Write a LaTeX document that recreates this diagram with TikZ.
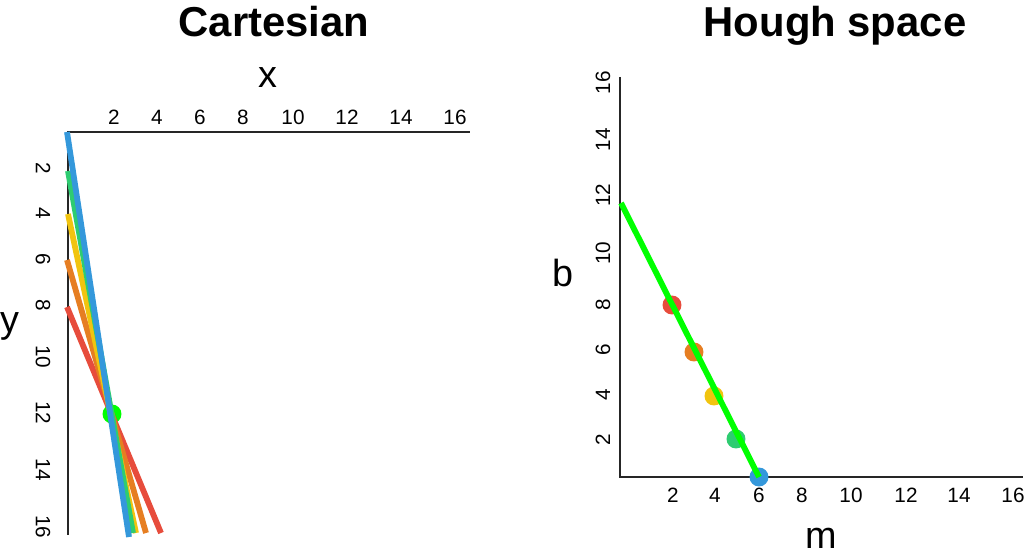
\documentclass[tikz,border=0pt]{standalone}
\usepackage{fontspec}
\setmainfont{Liberation Sans}
\usepackage{tikz}
\usetikzlibrary{positioning,calc}

\definecolor{lnred}{HTML}{E74C3C}
\definecolor{lnorange}{HTML}{E67E22}
\definecolor{lnyellow}{HTML}{F1C40F}
\definecolor{lngreen}{HTML}{2ECC71}
\definecolor{lnblue}{HTML}{3498DB}
\definecolor{hit}{HTML}{00FF00}

\begin{document}
\begin{tikzpicture}[x=0.02cm,y=-0.02cm,
			axis/.style={draw=black!85,line width=1.6pt},
			ln/.style={line width=3.3pt},
			pt/.style={circle,inner sep=0pt,minimum size=10.8pt},
			ttl/.style={font=\fontsize{23.8}{26}\selectfont\bfseries,anchor=base},
			lbl/.style={font=\fontsize{21.5}{24}\selectfont,anchor=base},
			tck/.style={font=\fontsize{11.8}{13}\selectfont,inner sep=0pt}]
		\useasboundingbox (0,0) rectangle (1024,560);
		% Cartesian
		\path 	(274,37) node (tcart) [ttl] {Cartesian}
		        (268,88) node (xl) [lbl] {x}
		        (10,333) node (yl) [lbl] {y};
		\coordinate (o1) at (67,132);
		\coordinate (xe) at (470,132);
		\coordinate (ye) at (68,535);
		\foreach \v/\p in {2/114,4/157,6/200,8/243,10/293,12/347,14/401,16/455}
			\node (cx\v) [tck] at (\p,117) {\v};
		\foreach \v/\p in {2/168,4/213,6/259,8/305,10/357,12/413,14/470,16/527}
			\node (cy\v) [tck,rotate=-90] at (43,\p) {\v};
		\draw [axis] (o1) -- (xe);
		\draw [axis] ($(o1)+(1,0)$) -- (ye);
		\node (cross) [pt,fill=hit] at (112,414) {};
		\coordinate (r0) at (67,307);   \coordinate (r1) at (161,533);
		\coordinate (or0) at (67,260);  \coordinate (or1) at (146,533);
		\coordinate (y0) at (68,214);   \coordinate (y1) at (136,533);
		\coordinate (g0) at (68,171);   \coordinate (g1) at (133,533);
		\coordinate (b0) at (67,132);   \coordinate (b1) at (129,537);
		\draw [ln,lnred] (r0) -- (r1);
		\draw [ln,lnorange] (or0) -- (or1);
		\draw [ln,lnyellow] (y0) -- (y1);
		\draw [ln,lngreen] (g0) -- (g1);
		\draw [ln,lnblue] (b0) -- (b1);
		% Hough space
		\path 	(835,37) node (though) [ttl] {Hough space}
		        (821,548) node (ml) [lbl] {m}
		        (563,287) node (bl) [lbl] {b};
		\coordinate (o2) at (620,477);
		\coordinate (me) at (1023,477);
		\coordinate (be) at (620,77);
		\foreach \v/\p in {2/673,4/715,6/759,8/802,10/851,12/906,14/959,16/1013}
			\node (hm\v) [tck] at (\p,495) {\v};
		\foreach \v/\p in {2/440,4/395,6/350,8/305,10/253,12/195,14/140,16/83}
			\node (hb\v) [tck,rotate=90] at (603,\p) {\v};
		\draw [axis] (be) -- (o2) -- (me);
		\path 	(672,305) node (pr) [pt,fill=lnred] {}
		        (694,352) node (po) [pt,fill=lnorange] {}
		        (714,396) node (py) [pt,fill=lnyellow] {}
		        (736,439) node (pg) [pt,fill=lngreen] {}
		        (759,477) node (pb) [pt,fill=lnblue] {};
		\coordinate (h0) at (621,203);
		\draw [ln,hit] (h0) -- (pb.center);
	\end{tikzpicture}
\end{document}
